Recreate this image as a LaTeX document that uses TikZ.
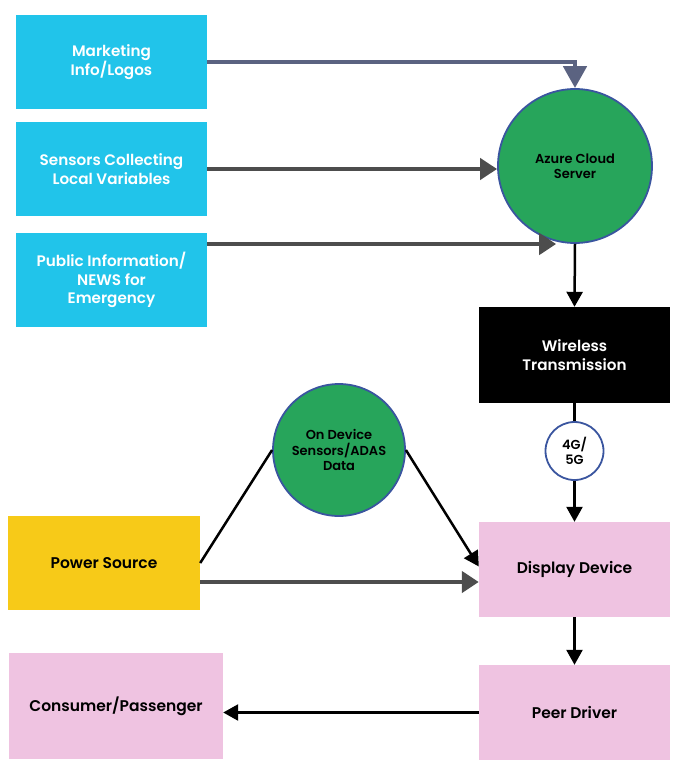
\documentclass[tikz,border=0pt]{standalone}
\usepackage{fontspec}
\setmainfont{Poppins}[BoldFont={Poppins SemiBold}]
\usepackage{tikz}
\usetikzlibrary{calc}
\usetikzlibrary{shapes.geometric, positioning, arrows.meta}
\definecolor{feedcyan}{HTML}{21C4EA}
\definecolor{hubgreen}{HTML}{27A55B}
\definecolor{rimblue}{HTML}{3A559F}
\definecolor{slate}{HTML}{5B6381}
\definecolor{pipegray}{HTML}{4D4D4D}
\definecolor{devpink}{HTML}{EFC3E1}
\definecolor{powyellow}{HTML}{F7CA18}
\tikzstyle{feedbox} = [rectangle, fill=feedcyan, text=white, minimum width=191pt, minimum height=94pt, align=center, font=\bfseries\fontsize{15.2}{18.5}\selectfont]
\tikzstyle{devbox} = [rectangle, fill=devpink, text=black, minimum width=191pt, minimum height=95pt, align=center, font=\bfseries\fontsize{15.5}{18.5}\selectfont]
\tikzstyle{hub} = [circle, fill=hubgreen, draw=rimblue, line width=1.8pt, align=center, font=\bfseries\fontsize{13}{15.5}\selectfont]
\tikzstyle{arrow} = [line width=2.5pt,-{Triangle[width=16pt,length=15pt]}]
\tikzstyle{pipe} = [line width=4.8pt, draw=pipegray, -{Triangle[width=21pt,length=17pt]}]

\begin{document}
\begin{tikzpicture}[x=1pt,y=-1pt,node distance=107pt,on grid]
    \useasboundingbox (0,0) rectangle (688,766);
   	\node[feedbox](mkt) at (111.5,62){Marketing\\Info/Logos};
   	\node[feedbox](sens)[below=of mkt]{Sensors Collecting\\Local Variables};
   	\node[feedbox](pub)[below=111pt of sens]{Public Information/\\NEWS for\\Emergency};
   	\node[hub,minimum size=154pt](azure) at (575,166){Azure Cloud\\Server};
   	\node[rectangle,fill=black,text=white,minimum width=191pt,minimum height=96pt,align=center,font=\bfseries\fontsize{15.2}{18.5}\selectfont](wire) at (574.5,355){Wireless\\Transmission};
   	\node[circle,fill=white,draw=rimblue,line width=1.8pt,minimum size=58pt,align=center,font=\bfseries\fontsize{13}{15}\selectfont](net)[below=96pt of wire]{4G/\\5G};
   	\node[devbox](disp) at (574.5,569.5){Display Device};
   	\node[devbox](peer)[below=143pt of disp]{Peer Driver};
   	\node[devbox,minimum width=214pt,minimum height=106pt](cons) at (116,706){Consumer/Passenger};
   	\node[rectangle,fill=powyellow,minimum width=192pt,minimum height=94pt,font=\bfseries\fontsize{15.5}{18.5}\selectfont](power) at (104,563){Power Source};
   	\node[hub,minimum size=132pt](ondev) at (339,450){On Device\\Sensors/ADAS\\Data};
    % feeds into the cloud
    \draw[line width=4.8pt,draw=slate,-{Triangle[width=23pt,length=22pt]}] (mkt.east) -| (azure.north);
    \draw[pipe] (sens.east) -- (azure.west |- sens.east);
    \coordinate (pubout) at ([yshift=36pt]pub.east);
    \draw[pipe] (pubout) -- (pubout -| azure.256);
    % down the right column
    \draw[arrow] (azure.south) -- (wire.north);
    \draw[line width=2.5pt] (wire.south) -- (net.north);
    \draw[arrow] (net.south) -- (disp.north);
    \draw[arrow] (disp.south) -- (peer.north);
    \draw[arrow] (peer.west) -- (peer.west -| cons.east);
    % device side
    \draw[line width=2.5pt] (ondev.west) -- (power.east);
    \draw[arrow] (ondev.east) -- ([yshift=3pt]disp.west);
    \coordinate (powout) at ([yshift=-19pt]power.east);
    \draw[pipe] (powout) -- (powout -| disp.west);
\end{tikzpicture}
\end{document}
